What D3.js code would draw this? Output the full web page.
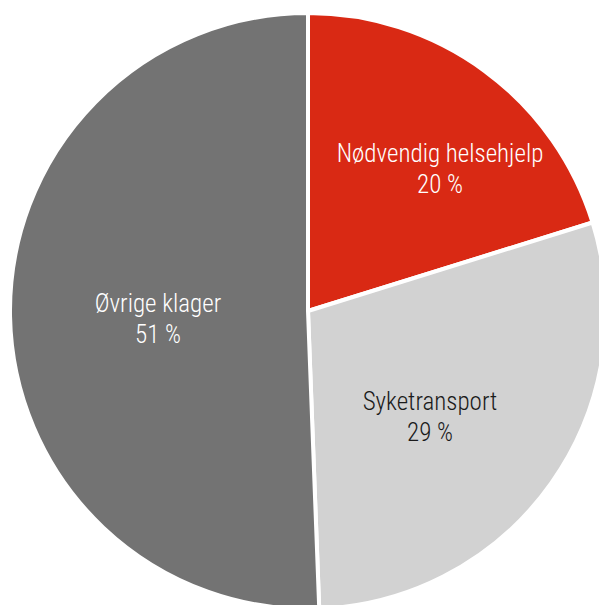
<!DOCTYPE html>
<html><head><meta charset="utf-8">
<script src="https://cdn.jsdelivr.net/npm/d3@7/dist/d3.min.js"></script>
<style>
html,body{margin:0;padding:0;background:#fff;}
svg{display:block;}
text{font-family:"Roboto Condensed","Roboto","Liberation Sans Narrow",sans-serif;font-stretch:condensed;font-weight:300;}
</style></head>
<body>
<script>
const categories = ["Nødvendig helsehjelp", "Syketransport", "Øvrige klager"];
const values = [20.2, 29.2, 50.6];
const colors = ["#D92914", "#D2D2D2", "#737373"];
const textColors = ["#ffffff", "#1a1a1a", "#ffffff"];

const W = 599, H = 605;
const cx = 308, cy = 311, R = 298;
// label anchor offsets relative to the pie centre (layout)
const labelPos = [[132, -149], [122, 99], [-150, 1]];

const svg = d3.select("body").append("svg").attr("width", W).attr("height", H);
const g = svg.append("g").attr("transform", `translate(${cx},${cy})`);

const data = categories.map((c, i) => ({cat: c, value: values[i], i}));
const pie = d3.pie().value(d => d.value).sort(null);
const arc = d3.arc().innerRadius(0).outerRadius(R);
const arcs = pie(data);

g.selectAll("path").data(arcs).join("path")
  .attr("d", arc)
  .attr("fill", d => colors[d.data.i])
  .attr("stroke", "#fff")
  .attr("stroke-width", 4)
  .attr("stroke-linejoin", "round");

const lbl = g.selectAll("text.lbl").data(arcs).join("text")
  .attr("class", "lbl")
  .attr("text-anchor", "middle")
  .attr("font-size", 25)
  .attr("fill", d => textColors[d.data.i])
  .attr("transform", d => `translate(${labelPos[d.data.i][0]},${labelPos[d.data.i][1]})`);
lbl.append("tspan").attr("x", 0).attr("y", 0).text(d => d.data.cat);
lbl.append("tspan").attr("x", 0).attr("y", 31).text(d => Math.round(d.data.value) + " %");
</script>
</body></html>
